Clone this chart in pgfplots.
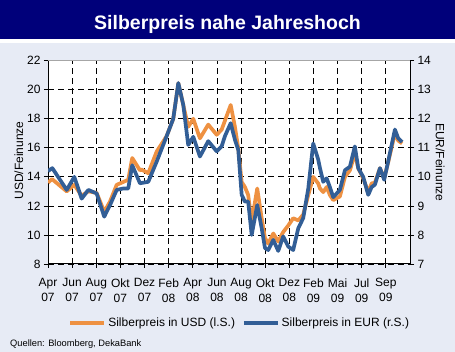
\documentclass[border=0pt]{standalone}
\usepackage{fontspec}
\setmainfont{Liberation Sans}
\usepackage{pgfplots}
\pgfplotsset{compat=1.18}
\usepackage{pgfplotstable}
\definecolor{bgc}{RGB}{231,235,245}
\definecolor{navy}{RGB}{0,0,122}
\definecolor{usdc}{RGB}{238,145,66}
\definecolor{eurc}{RGB}{50,94,150}

\pgfplotstableread{
m usd
0.00 13.6
0.33 13.85
1.55 13.0
2.18 13.45
2.79 12.7
3.34 13.0
4.03 12.9
4.66 11.6
5.14 12.3
5.69 13.45
6.24 13.65
6.65 13.8
6.98 15.3
7.62 14.45
7.76 14.5
8.31 14.25
9.01 15.75
9.83 16.8
10.38 18.0
10.80 20.45
11.21 18.95
11.62 17.45
12.04 18.0
12.59 16.65
13.28 17.6
13.98 16.9
14.39 17.25
15.14 18.95
15.49 17.45
15.77 15.95
16.05 13.65
16.32 13.3
16.59 12.75
16.88 10.9
17.34 13.2
17.71 11.15
17.98 9.8
18.25 9.4
18.67 10.1
19.08 9.55
19.49 10.2
19.91 10.65
20.32 11.15
20.74 11.0
21.15 11.4
21.57 12.75
21.98 14.0
22.39 13.55
22.54 13.2
22.81 12.95
23.09 13.3
23.36 12.75
23.64 12.4
24.19 12.65
24.61 14.0
25.02 14.45
25.43 15.6
25.71 14.6
26.12 13.9
26.54 12.95
26.82 13.55
27.09 13.6
27.51 14.6
27.86 13.9
28.19 15.0
28.75 17.0
29.02 16.5
29.35 16.3
}\usdtab

\pgfplotstableread{
m eur
0.00 10.2
0.36 10.3
1.55 9.55
2.18 10.0
2.79 9.25
3.34 9.55
4.03 9.43
4.66 8.63
5.14 9.03
5.69 9.55
6.24 9.6
6.65 9.6
6.98 10.4
7.62 9.78
8.31 9.83
9.01 10.53
9.83 11.4
10.38 12.0
10.80 13.23
11.21 12.48
11.62 11.1
12.04 11.38
12.59 10.7
13.28 11.23
13.98 10.88
14.39 11.05
14.66 11.4
15.14 11.85
15.49 11.28
15.77 10.93
16.05 9.38
16.32 9.15
16.59 9.15
16.88 8.0
17.34 9.03
17.71 8.23
17.98 7.55
18.25 7.48
18.67 7.83
19.08 7.45
19.49 7.95
19.91 7.6
20.32 7.48
20.74 8.23
21.15 8.58
21.57 9.6
21.98 11.15
22.39 10.6
22.54 10.3
22.81 9.83
23.09 9.95
23.36 9.65
23.64 9.3
24.19 9.55
24.61 10.23
25.02 10.35
25.43 11.05
25.71 10.3
26.12 10.0
26.54 9.38
26.82 9.65
27.09 9.73
27.51 10.3
27.86 9.9
28.19 10.53
28.75 11.63
29.02 11.33
29.35 11.2
}\eurtab

\begin{document}
\begin{tikzpicture}
\fill[bgc] (0pt,0pt) rectangle (455pt,352pt);
\fill[white] (0pt,309pt) rectangle (455pt,313pt);
\fill[navy] (0pt,313pt) rectangle (455pt,352pt);
\node[white, anchor=base, inner sep=0pt, font=\fontsize{19.5}{22}\selectfont\bfseries] at (227.5pt,322pt) {Silberpreis nahe Jahreshoch};
\node[anchor=base west, inner sep=0pt, font=\fontsize{9.3}{11}\selectfont] at (10pt,5.5pt) {Quellen: Bloomberg, DekaBank};

\begin{axis}[
  at={(48pt,88pt)}, anchor=south west, scale only axis,
  width=362pt, height=203.3pt,
  xmin=0, xmax=30, ymin=8, ymax=22,
  axis x line*=bottom, axis y line*=left,
  axis line style={-, black, line width=1pt},
  axis background/.style={fill=white},
  xtick={0,2,...,28},
  xticklabels={{Apr\\07},{Jun\\07},{Aug\\07},{Okt\\07},{Dez\\07},{Feb\\08},{Apr\\08},{Jun\\08},{Aug\\08},{Okt\\08},{Dez\\08},{Feb\\09},{Mai\\09},{Jul\\09},{Sep\\09}},
  xticklabel style={align=center, font=\fontsize{12}{15}\selectfont, yshift=-7pt},
  ytick={8,10,...,22},
  yticklabel style={font=\fontsize{12}{14}\selectfont},
  /pgf/number format/assume math mode=true,
  tick align=outside, major tick length=4pt,
  tick style={black, line width=0.8pt},
  grid=major,
  major grid style={black, line width=0.8pt, dash pattern=on 6pt off 4pt},
  ylabel={USD/Feinunze},
  ylabel style={font=\fontsize{12}{14}\selectfont, xshift=2pt, yshift=-3pt},
  legend style={at={(0.53,-0.29)}, anchor=center, draw=none, fill=none,
    legend columns=2, font=\fontsize{12}{14}\selectfont,
    /tikz/every even column/.append style={column sep=5pt}},
  legend image code/.code={\draw[#1] (0pt,0pt) -- (34pt,0pt);},
]
\addplot[usdc, line width=3.7pt, line join=round] table[x=m, y=usd] {\usdtab};
\addlegendentry{Silberpreis in USD (l.S.)}
\addlegendimage{eurc, line width=3.7pt}
\addlegendentry{Silberpreis in EUR (r.S.)}
\draw[gray!70, line width=1.2pt] (rel axis cs:0,1) -- (rel axis cs:1,1);
\end{axis}

\begin{axis}[
  at={(48pt,88pt)}, anchor=south west, scale only axis,
  width=362pt, height=203.3pt,
  xmin=0, xmax=30, ymin=7, ymax=14,
  axis y line*=right, axis x line=none,
  axis line style={-, black, line width=1pt},
  ytick={7,8,...,14},
  yticklabel style={font=\fontsize{12}{14}\selectfont},
  /pgf/number format/assume math mode=true,
  tick align=outside, major tick length=4pt,
  tick style={black, line width=0.8pt},
  ylabel={EUR/Feinunze},
  ylabel style={font=\fontsize{12}{14}\selectfont, rotate=180, yshift=-2pt},
]
\addplot[eurc, line width=3.7pt, line join=round] table[x=m, y=eur] {\eurtab};
\end{axis}
\pgfresetboundingbox
\path[use as bounding box] (0pt,0pt) rectangle (455pt,352pt);
\end{tikzpicture}
\end{document}
